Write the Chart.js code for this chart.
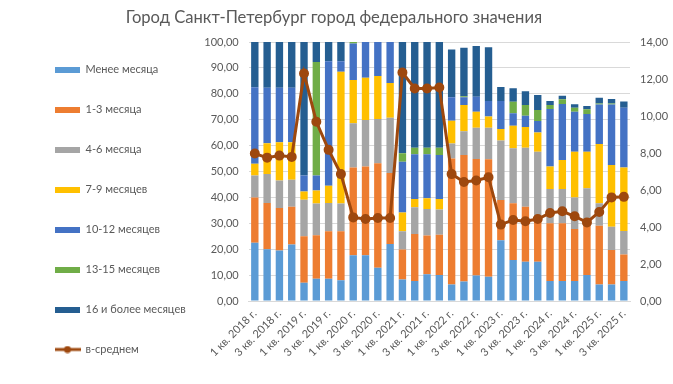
<!DOCTYPE html>
<html>
<head>
<meta charset="utf-8">
<script src="https://cdn.jsdelivr.net/npm/chart.js@4"></script>
<style>
  html, body { margin: 0; padding: 0; background: #fff; }
  #wrap { position: relative; width: 673px; height: 384px; }
  #title { position: absolute; left: 0; width: 668px; top: 7px; text-align: center;
           font-family: Lato, "Open Sans", sans-serif; font-size: 16.6px; color: #595959; line-height: 20px; }
</style>
</head>
<body>
<div id="wrap">
  <div id="title">Город Санкт-Петербург город федерального значения</div>
  <canvas id="myChart" width="673" height="384"></canvas>
</div>
<script>
// кварталы
var years = ['2018', '2019', '2020', '2021', '2022', '2023', '2024', '2025'];
var quarters = [];
for (var y = 0; y < years.length; y++) {
  for (var q = 1; q <= 4; q++) {
    if (years[y] === '2025' && q > 3) break;
    quarters.push(q + ' кв. ' + years[y] + ' г.');
  }
}

var menee = [22.5, 20.0, 19.5, 21.8, 7.0, 8.6, 8.6, 8.0, 17.7, 17.7, 12.8, 22.0, 8.3, 7.7, 10.3, 10.0, 6.4, 7.5, 9.8, 9.4, 23.5, 15.8, 15.2, 15.2, 7.7, 7.7, 7.7, 10.0, 6.4, 6.4, 7.7];
var m1_3 = [17.5, 17.8, 16.4, 14.6, 18.0, 16.8, 18.3, 18.9, 33.8, 34.2, 40.4, 27.4, 11.6, 18.2, 15.0, 15.6, 48.6, 48.9, 45.0, 45.3, 15.5, 21.9, 21.2, 15.4, 22.3, 22.3, 20.1, 19.1, 22.7, 13.3, 10.3];
var m4_6 = [8.5, 11.2, 10.6, 10.4, 14.1, 12.2, 10.9, 10.7, 17.1, 18.0, 17.1, 21.4, 7.0, 10.3, 10.2, 9.7, 5.8, 9.1, 12.1, 12.2, 23.0, 21.3, 22.8, 27.0, 13.2, 13.2, 12.2, 14.4, 8.6, 9.0, 9.0];
var m7_9 = [4.5, 11.9, 14.8, 14.5, 3.2, 5.1, 6.7, 50.9, 16.7, 16.3, 16.6, 13.4, 7.3, 3.2, 4.2, 4.1, 8.8, 10.2, 6.2, 4.3, 4.4, 8.7, 8.0, 7.5, 8.7, 11.2, 17.6, 14.1, 22.9, 23.8, 24.5];
var m10_12 = [29.5, 21.4, 21.0, 21.0, 6.2, 5.8, 48.1, 4.1, 14.1, 13.8, 13.1, 15.8, 19.6, 17.3, 17.0, 17.0, 9.1, 3.0, 5.8, 6.0, 10.8, 4.8, 4.3, 4.4, 22.2, 21.7, 15.5, 14.6, 15.3, 23.4, 23.1];
var m13_15 = [0, 0, 0, 0, 0, 43.8, 0, 0, 0.6, 0, 0, 0, 3.2, 2.5, 2.5, 2.8, 0, 0.4, 0, 0, 0, 4.4, 4.2, 4.2, 1.6, 1.8, 1.5, 1.8, 0.4, 0.4, 0];
var m16 = [17.5, 17.7, 17.7, 17.7, 51.5, 7.7, 7.4, 7.4, 0, 0, 0, 0, 43.0, 40.8, 40.8, 40.8, 18.4, 18.7, 19.6, 20.8, 5.4, 5.2, 5.3, 5.8, 1.5, 1.3, 1.4, 1.3, 2.2, 1.7, 2.4];
var vSrednem = [7.97, 7.75, 7.86, 7.79, 12.3, 9.69, 8.17, 6.86, 4.52, 4.43, 4.49, 4.49, 12.35, 11.49, 11.49, 11.54, 6.86, 6.43, 6.51, 6.69, 4.13, 4.38, 4.31, 4.43, 4.76, 4.85, 4.58, 4.25, 4.81, 5.6, 5.63];

var seriesNames = ['Менее месяца', '1-3 месяца', '4-6 месяца', '7-9 месяцев', '10-12 месяцев', '13-15 месяцев', '16 и более месяцев'];
var seriesData = [menee, m1_3, m4_6, m7_9, m10_12, m13_15, m16];
var colors = ['#5B9BD5', '#ED7D31', '#A5A5A5', '#FFC000', '#4472C4', '#70AD47', '#255E91'];
var lineName = 'в-среднем';
var lineColor = '#9E480E';

var FONT = 'Lato, "Open Sans", sans-serif';
var TXT = '#595959';

function fmt(v) { return Number(v).toFixed(2).replace('.', ','); }

// маркеры легенды
function boxImg(color) {
  var c = document.createElement('canvas');
  c.width = 25; c.height = 6;
  var g = c.getContext('2d');
  g.fillStyle = color; g.fillRect(0, 0, 25, 6);
  return c;
}
function lineImg(color) {
  var c = document.createElement('canvas');
  c.width = 26; c.height = 8;
  var g = c.getContext('2d');
  g.strokeStyle = color; g.lineWidth = 3;
  g.beginPath(); g.moveTo(0, 4); g.lineTo(26, 4); g.stroke();
  g.fillStyle = color;
  g.beginPath(); g.arc(13, 4, 3.5, 0, Math.PI * 2); g.fill();
  return c;
}

var datasets = [];
for (var i = 0; i < seriesNames.length; i++) {
  datasets.push({
    type: 'bar',
    label: seriesNames[i],
    data: seriesData[i],
    backgroundColor: colors[i],
    xAxisID: 'x',
    yAxisID: 'y',
    order: 1,
    barPercentage: 0.6,
    categoryPercentage: 1.0,
    legendImg: boxImg(colors[i])
  });
}
datasets.push({
  type: 'line',
  label: lineName,
  data: vSrednem,
  borderColor: lineColor,
  backgroundColor: lineColor,
  borderWidth: 3,
  pointRadius: 3.5,
  pointBackgroundColor: lineColor,
  pointBorderColor: lineColor,
  tension: 0,
  xAxisID: 'x',
  yAxisID: 'y1',
  order: 0,
  legendImg: lineImg(lineColor)
});

var ctx = document.getElementById('myChart').getContext('2d');
var chart = new Chart(ctx, {
  type: 'bar',
  data: { labels: quarters, datasets: datasets },
  options: {
    responsive: false,
    animation: false,
    layout: { padding: { left: 26, right: 4, top: 35, bottom: 0 } },
    plugins: {
      title: { display: false },
      legend: {
        position: 'left',
        maxWidth: 220,
        labels: {
          color: TXT,
          font: { family: FONT, size: 11 },
          usePointStyle: true,
          pointStyleWidth: 25,
          padding: 29,
          generateLabels: function (ch) {
            var items = Chart.defaults.plugins.legend.labels.generateLabels(ch);
            items.sort(function (a, b) { return a.datasetIndex - b.datasetIndex; });
            items.forEach(function (it) {
              it.pointStyle = ch.data.datasets[it.datasetIndex].legendImg;
            });
            return items;
          }
        }
      },
      tooltip: { enabled: false }
    },
    scales: {
      x: {
        stacked: true,
        grid: { display: false, drawTicks: false },
        border: { color: '#D9D9D9' },
        afterFit: function (s) { s.height = 83; },
        ticks: {
          color: TXT,
          font: { family: FONT, size: 11 },
          padding: 6,
          autoSkip: false,
          minRotation: 45,
          maxRotation: 45,
          callback: function (v, i) { return i % 2 === 0 ? quarters[i] : ''; }
        }
      },
      // пустая верхняя ось: только отступ сверху
      xTop: {
        type: 'category',
        position: 'top',
        grid: { display: false, drawTicks: false },
        border: { display: false },
        ticks: { display: false },
        afterFit: function (s) { s.height = 7; }
      },
      y: {
        stacked: true,
        position: 'left',
        min: 0,
        max: 100,
        grid: { color: '#D9D9D9', drawTicks: false },
        border: { display: false },
        afterFit: function (s) { s.width = 53; },
        ticks: {
          stepSize: 10,
          color: TXT,
          font: { family: FONT, size: 11 },
          padding: 10,
          callback: function (v) { return fmt(v); }
        }
      },
      y1: {
        position: 'right',
        min: 0,
        max: 14,
        grid: { drawOnChartArea: false, display: false, drawTicks: false },
        border: { display: false },
        afterFit: function (s) { s.width = 39; },
        ticks: {
          stepSize: 2,
          color: TXT,
          font: { family: FONT, size: 11 },
          padding: 10,
          callback: function (v) { return fmt(v); }
        }
      }
    }
  }
});
</script>
</body>
</html>
